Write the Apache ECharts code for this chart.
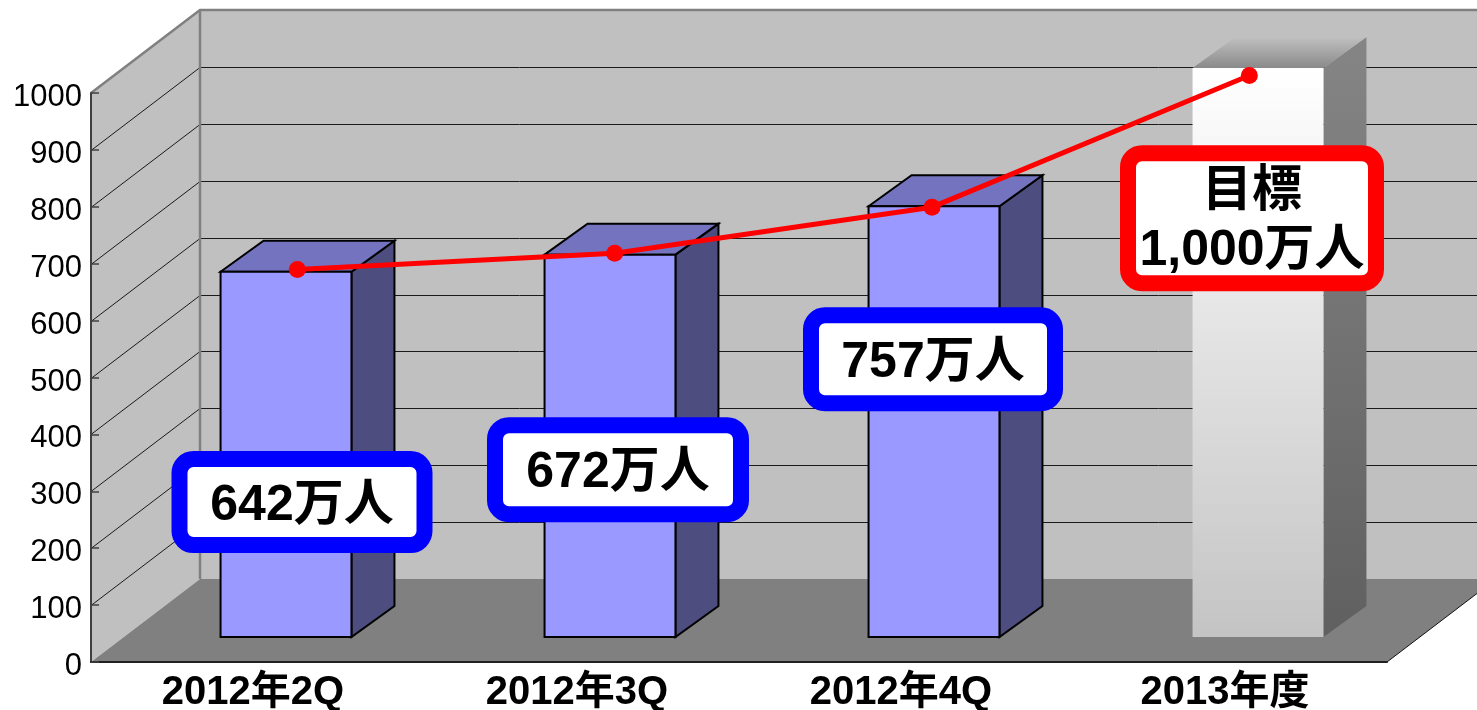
<!DOCTYPE html>
<html><head><meta charset="utf-8">
<script src="https://cdn.jsdelivr.net/npm/echarts@6/dist/echarts.min.js"></script>
<style>html,body{margin:0;padding:0;background:#fff}#c{width:1477px;height:710px}</style>
</head><body><div id="c"></div>
<script>
// ---- data ----
const categories = ['2012年2Q', '2012年3Q', '2012年4Q', '2013年度'];
const visitors = [642, 672, 757, 1000];          // 万人 (bars)
const trend = [642, 672, 757, 1000];             // 万人 (red line)
const calloutTexts = ['642万人', '672万人', '757万人', '目標\n1,000万人'];
const yMin = 0, yMax = 1000, yStep = 100;

// ---- layout / style constants ----
const DEPTH = [109, -83];          // full 3D depth offset (px)
const BAR_FRONT = [33, -25];       // bar front face offset from front plane
const BAR_DEPTH = [43, -31];       // bar depth
const BAR_FRAC = 0.404;            // bar width / band width
const CALLOUT_LEVEL = [281, 338, 532, 780];  // vertical anchor in axis units
const CALLOUT_DX = [49, 41, 32, 27];         // px nudge from category centre
const CALLOUT_SIZE = [[261, 102], [262, 105], [260, 104], [264, 146]];
const CALLOUT_COLOR = ['#0000ff', '#0000ff', '#0000ff', '#ff0000'];
const LATIN = '"Liberation Sans", Arial, "Noto Sans CJK JP", sans-serif';

const chart = echarts.init(document.getElementById('c'), null, {renderer: 'canvas'});

function wallsItem(params, api) {
  if (params.dataIndex !== 0) return;
  const bw = api.size([1, 0])[0];
  const n = categories.length;
  const x0 = api.coord([0, 0])[0] - bw / 2;
  const x1 = x0 + n * bw;
  const y = v => api.coord([0, v])[1];
  const dx = DEPTH[0], dy = DEPTH[1];
  const y0 = y(yMin), yT = y(yMax);
  const ch = [];
  ch.push({type: 'polygon', shape: {points: [[x0, y0], [x0, yT], [x0 + dx, yT + dy], [x0 + dx, y0 + dy]]},
    style: {fill: '#c0c0c0'}});
  ch.push({type: 'polygon', shape: {points: [[x0 + dx, yT + dy], [x1 + dx, yT + dy], [x1 + dx, y0 + dy], [x0 + dx, y0 + dy]]},
    style: {fill: '#c0c0c0'}});
  ch.push({type: 'polygon', shape: {points: [[x0, y0], [x1, y0], [x1 + dx, y0 + dy], [x0 + dx, y0 + dy]]},
    style: {fill: '#808080'}});
  for (let v = yMin + yStep; v < yMax; v += yStep) {
    const yy = Math.round(y(v)) + 0.5;
    ch.push({type: 'polyline', shape: {points: [[x0, yy], [x0 + dx, yy + dy], [x1 + dx, yy + dy]]},
      style: {stroke: '#1a1a1a', lineWidth: 1, fill: null}});
  }
  ch.push({type: 'polyline', shape: {points: [[x0, yT], [x0 + dx, yT + dy], [x1 + dx, yT + dy]]},
    style: {stroke: '#808080', lineWidth: 2.5, fill: null}});
  ch.push({type: 'line', shape: {x1: x0 + dx, y1: yT + dy, x2: x0 + dx, y2: y0 + dy},
    style: {stroke: '#808080', lineWidth: 2.5}});
  ch.push({type: 'line', shape: {x1: x1, y1: y0, x2: x1 + dx, y2: y0 + dy},
    style: {stroke: '#111', lineWidth: 1}});
  return {type: 'group', children: ch};
}

function barItem(params, api) {
  const i = api.value(0), v = api.value(1);
  const bw = api.size([1, 0])[0];
  const w = bw * BAR_FRAC;
  const c0 = api.coord([i, 0]);
  const ct = api.coord([i, v]);
  const fx = c0[0] + BAR_FRONT[0] - w / 2;
  const fy0 = c0[1] + BAR_FRONT[1];
  const fyt = ct[1] + BAR_FRONT[1];
  const ddx = BAR_DEPTH[0], ddy = BAR_DEPTH[1];
  const isTarget = i === categories.length - 1;
  const front = [[fx, fyt], [fx + w, fyt], [fx + w, fy0], [fx, fy0]];
  const top = [[fx, fyt], [fx + ddx, fyt + ddy], [fx + w + ddx, fyt + ddy], [fx + w, fyt]];
  const side = [[fx + w, fyt], [fx + w + ddx, fyt + ddy], [fx + w + ddx, fy0 + ddy], [fx + w, fy0]];
  let sF, sT, sS;
  if (!isTarget) {
    const base = {stroke: '#000', lineWidth: 2, lineJoin: 'miter'};
    sF = Object.assign({fill: '#9999ff'}, base);
    sT = Object.assign({fill: '#7373bf'}, base);
    sS = Object.assign({fill: '#4d4d80'}, base);
  } else {
    sF = {fill: new echarts.graphic.LinearGradient(0, 0, 0, 1, [{offset: 0, color: '#ffffff'}, {offset: 1, color: '#c4c4c4'}])};
    sT = {fill: new echarts.graphic.LinearGradient(0, 0, 0, 1, [{offset: 0, color: '#c0c0c0'}, {offset: 1, color: '#8a8a8a'}])};
    sS = {fill: new echarts.graphic.LinearGradient(0, 0, 0, 1, [{offset: 0, color: '#858585'}, {offset: 1, color: '#606060'}])};
  }
  return {type: 'group', children: [
    {type: 'polygon', shape: {points: side}, style: sS},
    {type: 'polygon', shape: {points: top}, style: sT},
    {type: 'polygon', shape: {points: front}, style: sF}
  ]};
}

function calloutItem(params, api) {
  const i = params.dataIndex;
  const c = api.coord([i, CALLOUT_LEVEL[i]]);
  const cx = c[0] + CALLOUT_DX[i], cy = c[1];
  const [w, h] = CALLOUT_SIZE[i];
  const bwid = 16;
  return {type: 'group', children: [
    {type: 'rect', shape: {x: cx - w / 2 + bwid / 2, y: cy - h / 2 + bwid / 2, width: w - bwid, height: h - bwid, r: 14},
      style: {fill: '#fff', stroke: CALLOUT_COLOR[i], lineWidth: bwid}},
    {type: 'text', style: {text: calloutTexts[i], x: cx, y: cy + 4, align: 'center', verticalAlign: 'middle',
      fontSize: 50, fontWeight: 'bold', fontFamily: LATIN, fill: '#000', lineHeight: 59}}
  ]};
}

const option = {
  animation: false,
  backgroundColor: '#fff',
  grid: [
    {left: 91, right: 90, top: 93, bottom: 48, containLabel: false, outerBoundsMode: 'none'},
    {left: 138.7, right: 69, top: 75.5, bottom: 92.7, containLabel: false, outerBoundsMode: 'none'}
  ],
  xAxis: [
    {type: 'category', gridIndex: 0, data: categories, z: 3,
      axisLine: {lineStyle: {color: '#202020', width: 2}},
      axisTick: {inside: true, length: 7, lineStyle: {color: '#202020', width: 1.5}},
      axisLabel: {color: '#000', fontSize: 40, fontWeight: 'bold', fontFamily: LATIN, margin: 11}},
    {type: 'category', gridIndex: 1, data: categories, show: false}
  ],
  yAxis: [
    {type: 'value', gridIndex: 0, min: yMin, max: yMax, interval: yStep, z: 3,
      axisLine: {show: true, lineStyle: {color: '#404040', width: 2}},
      axisTick: {show: true, inside: true, length: 8, lineStyle: {color: '#404040', width: 1.5}},
      splitLine: {show: false},
      axisLabel: {margin: 9, formatter: v => '{a|' + v + '}',
        rich: {a: {color: '#000', fontSize: 31, fontFamily: LATIN, padding: [9, 0, 0, 0]}}}},
    {type: 'value', gridIndex: 1, min: yMin, max: yMax, show: false, splitLine: {show: false}}
  ],
  series: [
    {type: 'custom', name: 'walls', xAxisIndex: 0, yAxisIndex: 0, z: 1, silent: true,
      renderItem: wallsItem, data: [[0, 0]], clip: false},
    {type: 'custom', name: 'bars', xAxisIndex: 0, yAxisIndex: 0, z: 2,
      renderItem: barItem, data: visitors.map((v, i) => [i, v]), clip: false},
    {type: 'line', name: 'trend', xAxisIndex: 1, yAxisIndex: 1, z: 4, data: trend,
      symbol: 'circle', symbolSize: 17, showSymbol: true,
      lineStyle: {color: '#ff0000', width: 5}, itemStyle: {color: '#ff0000'}},
    {type: 'custom', name: 'callouts', xAxisIndex: 0, yAxisIndex: 0, z: 5,
      renderItem: calloutItem, data: visitors.map((v, i) => [i, v]), clip: false}
  ]
};
chart.setOption(option);
</script></body></html>
